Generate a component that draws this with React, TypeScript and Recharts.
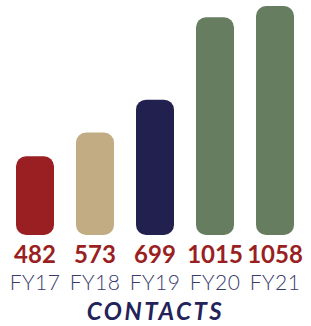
import { BarChart, Bar, XAxis, YAxis, Cell } from "recharts";

const years = ["FY17", "FY18", "FY19", "FY20", "FY21"];
const contacts = [482, 573, 699, 1015, 1058];
const barColors = ["#9A1F22", "#C2AC84", "#21204F", "#667E5F", "#667E5F"];

const data = years.map((year, i) => ({ year, contacts: contacts[i] }));

// value on top, year underneath
const YearTick = (props: any) => {
  const { x, y, payload, index } = props;
  return (
    <g>
      <text
        x={x}
        y={y + 28}
        textAnchor="middle"
        fontFamily="Lato"
        fontWeight={700}
        fontSize={24}
        fill="#9A1F22"
      >
        {contacts[index]}
      </text>
      <text
        x={x}
        y={y + 55}
        textAnchor="middle"
        fontFamily="Lato"
        fontWeight={300}
        fontSize={21}
        letterSpacing={0.5}
        fill="#3A3A6A"
      >
        {payload.value}
      </text>
    </g>
  );
};

export default function App() {
  return (
    <div style={{ position: "absolute", left: 0, top: 0, width: 311, height: 326, background: "#fff" }}>
      <BarChart
        width={311}
        height={326}
        data={data}
        margin={{ top: 6, right: 6, left: 5, bottom: 0 }}
      >
        <XAxis
          dataKey="year"
          height={91}
          axisLine={false}
          tickLine={false}
          tickSize={0}
          tickMargin={0}
          interval={0}
          tick={<YearTick />}
        />
        <YAxis hide domain={[180, 1058]} />
        <Bar dataKey="contacts" barSize={38} radius={[10, 10, 10, 10]} isAnimationActive={false}>
          {data.map((d, i) => (
            <Cell key={d.year} fill={barColors[i]} />
          ))}
        </Bar>
      </BarChart>
      <div
        style={{
          position: "absolute",
          left: 0,
          width: 311,
          top: 298,
          textAlign: "center",
          fontFamily: "Lato",
          fontWeight: 700,
          fontStyle: "italic",
          fontSize: 24,
          letterSpacing: 2.5,
          color: "#23235A",
          lineHeight: "26px",
        }}
      >
        CONTACTS
      </div>
    </div>
  );
}
